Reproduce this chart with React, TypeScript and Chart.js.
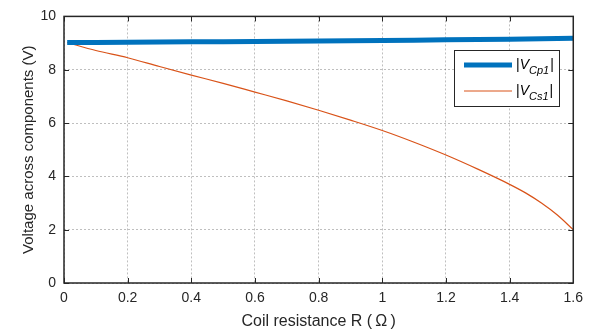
import React, { useEffect, useRef } from "react";
import { Chart, registerables } from "chart.js";

Chart.register(...registerables);

const rValues = [0.01, 0.1, 0.2, 0.3, 0.4, 0.5, 0.6, 0.7, 0.8, 0.9, 1.0, 1.1, 1.2, 1.3, 1.4, 1.45, 1.5, 1.55, 1.6];
const vCp1 = [9.02, 9.02, 9.03, 9.04, 9.05, 9.05, 9.06, 9.07, 9.08, 9.09, 9.1, 9.11, 9.12, 9.13, 9.14, 9.15, 9.16, 9.17, 9.18];
const vCs1 = [9.02, 8.72, 8.45, 8.12, 7.8, 7.49, 7.16, 6.83, 6.48, 6.11, 5.72, 5.28, 4.8, 4.27, 3.7, 3.38, 3.0, 2.55, 2.0];
const xTicks = [0, 0.2, 0.4, 0.6, 0.8, 1, 1.2, 1.4, 1.6];
const yTicks = [0, 2, 4, 6, 8, 10];

const BLUE = "#0072BD";
const ORANGE = "#D95319";
const FONT = "'Liberation Sans', Arial, Helvetica, sans-serif";

const boxPlugin = {
  id: "boxPlugin",
  afterDraw(chart: any) {
    const { ctx, chartArea: a, scales } = chart;
    ctx.save();
    ctx.strokeStyle = "#262626";
    ctx.lineWidth = 1;
    ctx.beginPath();
    xTicks.forEach((v) => {
      const px = Math.round(scales.x.getPixelForValue(v)) + 0.5;
      ctx.moveTo(px, a.bottom);
      ctx.lineTo(px, a.bottom - 5);
      ctx.moveTo(px, a.top);
      ctx.lineTo(px, a.top + 5);
    });
    yTicks.forEach((v) => {
      const py = Math.round(scales.y.getPixelForValue(v)) + 0.5;
      ctx.moveTo(a.left, py);
      ctx.lineTo(a.left + 5, py);
      ctx.moveTo(a.right, py);
      ctx.lineTo(a.right - 5, py);
    });
    ctx.stroke();
    ctx.lineWidth = 1.5;
    ctx.strokeRect(a.left, a.top, a.right - a.left, a.bottom - a.top);

    // legend
    const lx = 454, ly = 50, lw = 105, lh = 56;
    ctx.fillStyle = "#ffffff";
    ctx.fillRect(lx, ly, lw, lh);
    ctx.lineWidth = 1;
    ctx.strokeStyle = "#262626";
    ctx.strokeRect(lx + 0.5, ly + 0.5, lw, lh);
    const rows = [
      { color: BLUE, width: 5, sub: "Cp1", y: ly + 15 },
      { color: ORANGE, width: 1, sub: "Cs1", y: ly + 41 },
    ];
    rows.forEach((r) => {
      ctx.strokeStyle = r.color;
      ctx.lineWidth = r.width;
      ctx.beginPath();
      ctx.moveTo(lx + 10, r.y);
      ctx.lineTo(lx + 58, r.y);
      ctx.stroke();
      ctx.fillStyle = "#000";
      ctx.textBaseline = "alphabetic";
      ctx.textAlign = "left";
      let x = lx + 62;
      ctx.font = `14px ${FONT}`;
      ctx.fillText("|", x, r.y + 4);
      x += ctx.measureText("|").width;
      ctx.font = `italic 14px ${FONT}`;
      ctx.fillText("V", x, r.y + 4);
      x += ctx.measureText("V").width;
      ctx.font = `italic 11px ${FONT}`;
      ctx.fillText(r.sub, x, r.y + 9);
      x += ctx.measureText(r.sub).width + 1;
      ctx.font = `14px ${FONT}`;
      ctx.fillText("|", x, r.y + 4);
    });
    ctx.restore();
  },
};

export default function App() {
  const ref = useRef<HTMLCanvasElement>(null);
  useEffect(() => {
    document.body.style.margin = "0";
    const chart = new Chart(ref.current!, {
      type: "line",
      data: {
        datasets: [
          {
            label: "|V_Cp1|",
            data: rValues.map((x, i) => ({ x, y: vCp1[i] })),
            borderColor: BLUE,
            borderWidth: 5,
            pointRadius: 0,
            tension: 0,
          },
          {
            label: "|V_Cs1|",
            data: rValues.map((x, i) => ({ x, y: vCs1[i] })),
            borderColor: ORANGE,
            borderWidth: 1.2,
            pointRadius: 0,
            cubicInterpolationMode: "monotone",
          },
        ],
      },
      options: {
        animation: false,
        responsive: false,
        layout: { padding: { top: 11, right: 15, left: 0, bottom: 0 } },
        plugins: { legend: { display: false }, tooltip: { enabled: false } },
        scales: {
          x: {
            type: "linear",
            min: 0,
            max: 1.6,
            afterBuildTicks: (s: any) => {
              s.ticks = xTicks.map((v) => ({ value: v }));
            },
            afterFit: (s: any) => {
              s.height = 53;
            },
            border: { display: false, dash: [2, 2] },
            grid: { color: "rgba(0,0,0,0.25)", drawTicks: false },
            ticks: {
              color: "#262626",
              font: { family: FONT, size: 14 },
              padding: 7,
              maxRotation: 0,
              callback: (v: any) => String(v),
            },
            title: {
              display: true,
              text: "Coil resistance R (\u2009Ω\u2009)",
              color: "#262626",
              font: { family: FONT, size: 16 },
              padding: { top: 2, bottom: 5 },
            },
          },
          y: {
            min: 0,
            max: 10,
            afterBuildTicks: (s: any) => {
              s.ticks = yTicks.map((v) => ({ value: v }));
            },
            afterFit: (s: any) => {
              s.width = 64;
            },
            border: { display: false, dash: [2, 2] },
            grid: { color: "rgba(0,0,0,0.25)", drawTicks: false },
            ticks: {
              color: "#262626",
              font: { family: FONT, size: 14 },
              padding: 8,
            },
            title: {
              display: true,
              text: "Voltage across components (V)",
              color: "#262626",
              font: { family: FONT, size: 15 },
              padding: { top: 20, bottom: 0 },
            },
          },
        },
      } as any,
      plugins: [boxPlugin],
    });
    return () => chart.destroy();
  }, []);
  return (
    <div style={{ width: 590, height: 336, background: "#fff" }}>
      <canvas ref={ref} width={590} height={336} />
    </div>
  );
}
